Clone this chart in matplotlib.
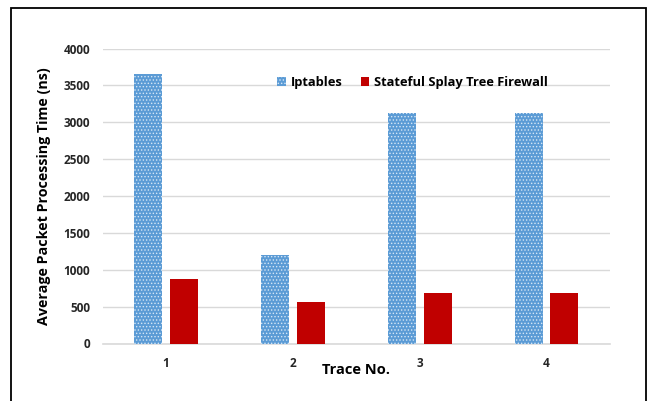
import matplotlib.pyplot as plt
import matplotlib.patches as mpatches
import numpy as np

# values
traces = ["1", "2", "3", "4"]
iptables = [3655, 1200, 3125, 3120]
splay = [875, 560, 680, 680]

plt.rcParams['font.family'] = ['Open Sans', 'DejaVu Sans']
plt.rcParams['font.weight'] = 'bold'
plt.rcParams['hatch.linewidth'] = 0.6

fig = plt.figure(figsize=(6.51, 4.01), dpi=100)
ax = fig.add_axes([102.5 / 651, 1 - 343.5 / 401, (610 - 102.5) / 651, (343.5 - 48.5) / 401])

x = np.arange(1, len(traces) + 1)
w = 0.22
ax.bar(x - 0.141, iptables, w, color='#5B9BD5', edgecolor='#D6E7F6', linewidth=0,
       hatch='.....', label='Iptables', zorder=3)
ax.bar(x + 0.141, splay, w, color='#C00000', linewidth=0,
       label='Stateful Splay Tree Firewall', zorder=3)

ax.set_xlim(0.5, 4.5)
ax.set_ylim(0, 4000)
ax.set_yticks(range(0, 4001, 500))
ax.set_xticks(x)
ax.set_xticklabels(traces)
ax.tick_params(length=0, labelsize=8.5, labelcolor='#262626')
ax.tick_params(axis='y', pad=9)
ax.tick_params(axis='x', pad=10)
ax.grid(axis='y', color='#D9D9D9', linewidth=1, zorder=0)
for s in ['top', 'right', 'left']:
    ax.spines[s].set_visible(False)
ax.spines['bottom'].set_color('#D9D9D9')
ax.spines['bottom'].set_linewidth(1.2)

ax.set_ylabel("Average Packet Processing Time (ns)", fontsize=10.3, fontweight='bold')
ax.yaxis.set_label_coords(-0.101, 0.5)
fig.text(355.5 / 651, 1 - 370 / 401, "Trace No.", ha='center', va='center',
         fontsize=10.5, fontweight='bold')

ax.legend(loc='center', bbox_to_anchor=(0.611, 0.884),
          ncol=2, frameon=False, fontsize=9.3, handlelength=0.65, handleheight=0.65,
          handletextpad=0.4, columnspacing=1.4)

fig.patches.append(mpatches.Rectangle((11 / 651, -0.05), (645.5 - 11) / 651, 1.05 - 8 / 401,
                                      transform=fig.transFigure, fill=False,
                                      edgecolor='black', linewidth=1.3))

fig.savefig("out.png", dpi=100)
